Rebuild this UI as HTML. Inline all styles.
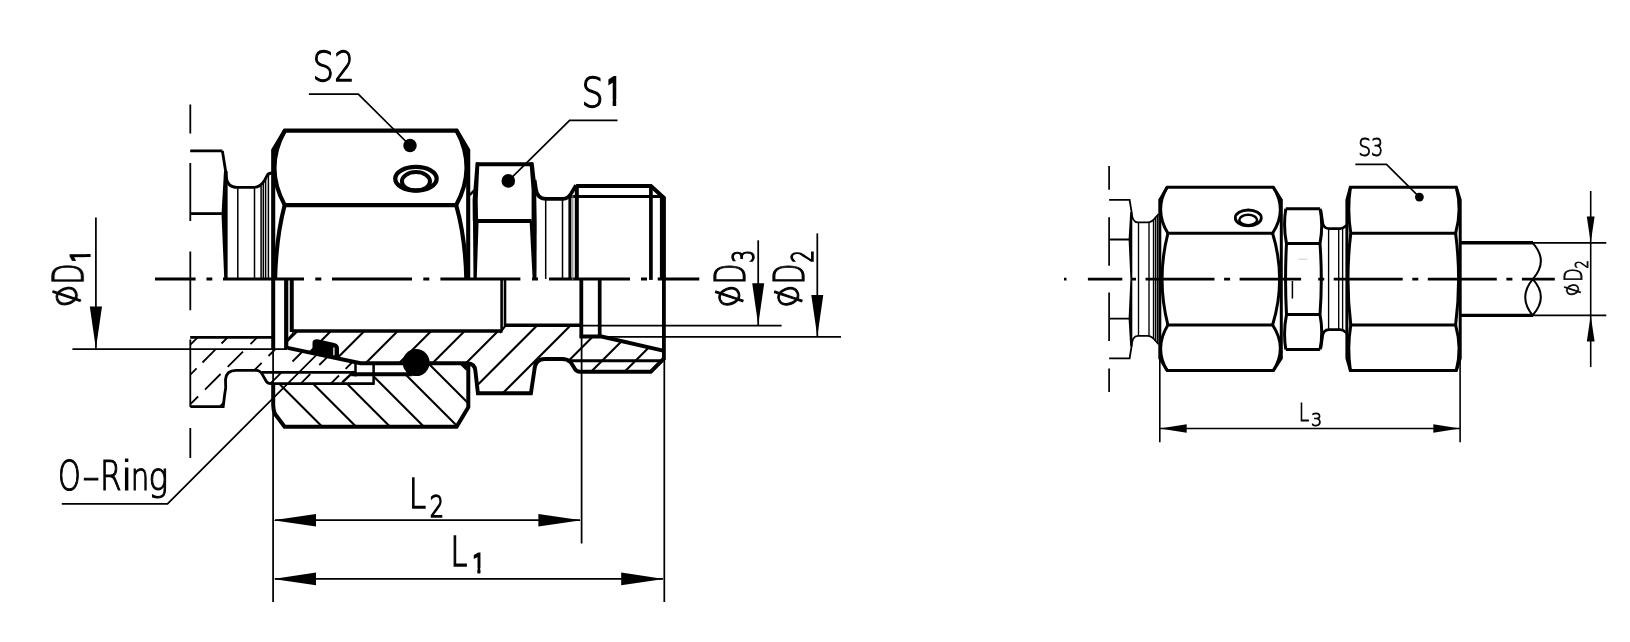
<!DOCTYPE html>
<html lang="en">
<head>
<meta charset="utf-8">
<title>Fitting dimensions</title>
<style>
html,body{margin:0;padding:0;background:#fff;}
body{width:1630px;height:642px;overflow:hidden;}
svg{display:block;}
.k{stroke:#000;fill:none;stroke-linecap:butt;stroke-linejoin:miter;}
.w{stroke:#fff;}
.g1{stroke:#777;}
.g2{stroke:#d0d0d0;}
.t{font-family:"DejaVu Sans","Liberation Sans",sans-serif;font-weight:400;fill:#000;stroke:#000;stroke-width:0;opacity:.999;}

</style>
</head>
<body>
<svg width="1630" height="642" viewBox="0 0 1630 642">
<rect width="1630" height="642" fill="#fff"/>
<defs>
<clipPath id="cBody"><path d="M288,347.9 L360.5,363.2 L467,363.3 L475.2,367.4 L477.9,393.3 L530.9,393.3 L534.4,368.6 L543,359 L564.2,359 L577.3,371.7 L650.8,371.7 L663.5,359 L663.5,350.5 L601.6,336.4 L581.3,336.5 L581.3,325.3 L505,325.3 L502,331 L292.8,331 L288,337 Z"/></clipPath>
<clipPath id="cNut"><path d="M273.2,383.4 L373.6,383.4 L373.6,374.2 L412,374.2 L412,363.3 L467,363.3 L468.3,407 L456.6,426.8 L284.6,426.8 L273.5,410 Z"/></clipPath>
<clipPath id="cPh"><path d="M190.3,337.3 L273,337.3 L273,349.4 L288,349.4 L288,348 L355.7,362.2 L355.7,372.4 L343,383.3 L269.1,383.3 L257.3,370.4 L234.8,370.4 L226.5,380 L221.8,406.7 L190.3,406.7 Z"/></clipPath>
</defs>

<!-- ================= LEFT DRAWING ================= -->
<g id="left">
<!-- centre line -->
<g class="k" stroke-width="2.9">
<path d="M155,279H195.6M206.5,279h5.8M223,279h81M315.3,279h6M332,279h80M423.3,279h6M440.4,279h80M532,279h6M549,279h81M641,279h6M657.7,279H699.3"/>
</g>
<!-- flange axis dash-dot -->
<g class="k" stroke-width="1.8">
<path d="M190.3,104.4V133.5M190.3,163V221M190.3,251.6V310.2M190.3,339.6V407M190.3,428V458"/>
</g>

<!-- hatching -->
<g class="k" stroke-width="2.1" clip-path="url(#cBody)">
<path d="M228.54,400l100,-100M261.97,400l100,-100M295.40,400l100,-100M328.83,400l100,-100M362.26,400l100,-100M395.69,400l100,-100M429.12,400l100,-100M462.55,400l100,-100M495.98,400l100,-100M529.41,400l100,-100M562.84,400l100,-100M596.27,400l100,-100"/>
</g>
<g class="k" stroke-width="2.1" clip-path="url(#cNut)">
<path d="M225.5,330l110,110M259.4,330l110,110M293.3,330l110,110M327.2,330l110,110M361.1,330l110,110M395,330l110,110M428.9,330l110,110"/>
</g>
<g class="k" stroke-width="1.8" clip-path="url(#cPh)">
<path d="M189,346L198,337M188,377L196.6,368.4M202.5,362.5L215.3,349.7M221.5,343.5L228,337M188,406.6L198.1,396.5M205,389.6L220.6,374M227.7,366.9L243,351.6M250.5,344.1L258,336.6M253,371.5L261.7,362.8M268.5,356L276.5,348M270,384L281.3,372.7M292.5,361.5L304,350M300,384.3L310.3,374M319.3,365L329,355.3M330,384.5L339,375.5M345.6,368.9L354,360.5"/>
</g>

<!-- upper half : flange -->
<g class="k" stroke-width="2.8">
<path d="M190.2,150.9H222.4"/>
<path d="M190.2,213.6H221.8"/>
<path d="M222.4,150.9 L225.6,171 L226.2,177 Q227.3,187.3 237,187.3 H254 Q260.5,187.3 264.6,180.2 L267.3,175.2 Q268.6,173 271.8,173" stroke-width="2.8"/>
</g>
<path d="M224,171 L227.6,171 L227.6,279.9 L224.3,279.9 L221.5,214 Z" fill="#000"/>
<g class="k" stroke-width="1.5">
<path d="M237.8,188V279M254.5,188V279M261.1,186V279M263.3,183V279M265.6,179V279M268.4,174.5V279"/>
</g>

<!-- upper half : nut S2 -->
<g class="k" stroke-width="4.1">
<path d="M273.2,279.9 V150 L284.9,130.6 H456.6 L468.2,150 V279.9"/>
<path d="M284.9,130.6 Q264.2,167.8 284.7,205.1 H456.2 Q476.6,167.8 456.6,130.6"/>
<path d="M284.7,205.1 Q276,238 275.1,279.9"/>
<path d="M456.2,205.1 Q465.5,238 466.3,279.9"/>
</g>
<!-- hole -->
<g class="k">
<ellipse cx="415.95" cy="178.8" rx="20.7" ry="11.85" stroke-width="4.3"/>
<ellipse cx="415.95" cy="181.35" rx="14.05" ry="9.25" stroke-width="4"/>
</g>

<!-- upper half : hex S1 -->
<g class="k" stroke-width="3.9">
<path d="M476,164.3 H533"/>
<path d="M478,221 H531.6"/>
</g>
<g fill="#000">
<path d="M475.6,162.4 L479.4,162.4 L478.6,180 L477.7,200 L478.1,221 L472.8,221 L472.6,200 L474.4,178 Z"/>
<path d="M473,221 L478.6,221 L476.7,279.9 L473.5,279.9 Z"/>
<path d="M529.5,162.4 L533.6,162.4 L536,183 L536.7,221 L531.6,221 L531.6,190 Z"/>
<path d="M529.6,221 L536.7,221 L536.5,279.9 L532.7,279.9 Z"/>
</g>
<path class="k" stroke-width="2.4" d="M469.9,194.8 L475.5,189.2"/>
<!-- groove + thread -->
<g class="k" stroke-width="3.7">
<path d="M534.6,180 L535.9,189 Q537.2,198.8 546,198.8 H563 Q568.3,198.8 571.5,192.8 L576,185.2"/>
<path d="M571.2,196.5 H660.9" stroke-width="3"/>
</g>
<g class="k" stroke-width="4">
<path d="M576.1,186 H650.9 L664.6,198.5" stroke-linejoin="miter"/>
</g>
<g class="k">
<path d="M545.7,199V279M562.5,199V279" stroke-width="1.5"/>
<path d="M569.9,194V279.9" stroke-width="3"/>
<path class="g1" d="M572.8,194V279.9" stroke-width="1"/>
<path d="M576.8,186V279.9" stroke-width="4"/>
<path d="M650.9,186V279.9" stroke-width="3.7"/>
<path d="M662.9,197V279.9" stroke-width="6"/>
</g>

<!-- lower half : section -->
<g class="k" stroke-width="2.8">
<path d="M190.2,337.3H272"/>
<path d="M190.4,406.7 H223.2 L224.6,395 L225.7,388 L225.5,379.5 Q226.2,370.4 236,370.4 H256 Q260,370.3 262.3,374.4 L266.2,381.3 Q267.5,383.6 271,383.6 H373.8"/>
<path d="M261.5,372.4 H355.7"/>
<path d="M355.5,362.5 V376.4" stroke-width="2.5"/>
<path d="M373.6,364.3 V384.8" stroke-width="2.5"/>
<path d="M342.3,382.4 L354,371.4" stroke-width="2.5"/>
</g>
<g class="k">
<path d="M273.2,278 V349" stroke-width="4"/>
<path d="M286.2,278 V349" stroke-width="4.2"/>
<path d="M291.75,278 V332" stroke-width="4"/>
<path d="M288.4,338.6 L293.6,333" stroke-width="2"/>
<path d="M292,331 H502.5" stroke-width="3.5"/>
<path d="M501.6,278 V331" stroke-width="2.6"/>
<path d="M505,278 V326.5" stroke-width="2.6"/>
<path d="M500,333 L505.5,325.6" stroke-width="2"/>
<path d="M504,325.3 H581" stroke-width="3.5"/>
<path d="M581.3,278 V338" stroke-width="3.8"/>
<path d="M599.7,278 V338" stroke-width="3.7"/>
<path d="M663.9,278 V360" stroke-width="3.8"/>
<path d="M579.8,336.5 H601.6 L663,350.6" stroke-width="3.9"/>
<path d="M287.6,347.9 L360.5,363.2 H467 Q475,363.3 475.4,371 L477.9,393.3 H530.9 L534.4,370 Q535,359 545,359 H562 Q567.5,359 570.5,362 L574.5,368.3 Q576.3,371.7 580,371.7 H650.8 L664,358.5" stroke-width="3.9"/>
<path d="M571,360.8 H662" stroke-width="3"/>
<path d="M351.2,374.2 H412" stroke-width="4"/>
<path d="M468.3,363.3 V407.2 L456.6,426.8 H284.6 L275,414 Q273.2,410 273.2,405 V383.3" stroke-width="4"/>
</g>
<path d="M217.8,407.6 L223.9,401 L223.6,407.6 Z" fill="#000"/>
<!-- seal and wire -->
<path d="M312.5,342.5 Q313,339 317.5,339.3 L334.3,343.1 Q339,344.4 339,348.5 V359.2 L308.5,353 L312.5,349 Z" fill="#000"/>
<path class="k w" stroke-width="1.3" d="M333.9,347.4 V355.3"/>
<circle cx="416.1" cy="362.6" r="13.5" fill="#000"/>
<path d="M460.4,365 H466.5 V371 Z" fill="#000"/>
<path d="M403,363.3 L398,363.3 L398,361.8 Z M403.5,373.8 L400,375.6 L409,375.6Z" fill="#000"/>

<!-- leaders & dots -->
<g class="k" stroke-width="1.75">
<path d="M308.9,94.2 H358.3 L410,145.5"/>
<path d="M617.5,120.3 H569.6 L508.3,180.9"/>
<path d="M61.8,503.8 H167.5 L321,350.3"/>
</g>
<circle cx="410" cy="145.5" r="6.7" fill="#000"/>
<circle cx="508.3" cy="180.9" r="6.8" fill="#000"/>

<!-- dimensions -->
<g class="k" stroke-width="1.75">
<path d="M72.4,349 H287"/>
<path d="M95.9,217.4 V348.6"/>
<path d="M581,325.5 H781.6"/>
<path d="M601,336.9 H841"/>
<path d="M758.2,240.3 V325"/>
<path d="M817.3,233.4 V336.4"/>
<path d="M273.1,349 V602"/>
<path d="M581.6,338 V543.5"/>
<path d="M664.3,360 V602"/>
<path d="M275,520.2 H580"/>
<path d="M275,578.9 H663"/>
</g>
<g fill="#000">
<path d="M95.9,348.8 L89.8,306.6 H102 Z"/>
<path d="M758.2,325 L752.2,283.3 H764.2 Z"/>
<path d="M817.3,336.5 L811.3,294.9 H823.3 Z"/>
<path d="M273.1,520.2 L316,513.9 V526.5 Z"/>
<path d="M581.3,520.2 L538.4,513.9 V526.5 Z"/>
<path d="M273.1,578.9 L316,572.6 V585.2 Z"/>
<path d="M663.9,578.9 L621.2,572.6 V585.2 Z"/>
</g>

<!-- texts -->
<g class="t">
<text transform="translate(314.9,81.3)"><tspan font-size="41.5" textLength="21.51" lengthAdjust="spacingAndGlyphs" dx="-2.48" style="font-family:'DejaVu Sans Light','DejaVu Sans',sans-serif;font-weight:200;stroke-width:1.3">S</tspan><tspan font-size="41.5" textLength="20.18" lengthAdjust="spacingAndGlyphs" dx="0.26" style="font-family:'DejaVu Sans Light','DejaVu Sans',sans-serif;font-weight:200;stroke-width:1.3">2</tspan></text>
<clipPath id="cut1"><path clip-rule="evenodd" d="M0,0H1630V642H0ZM608.23,99.26H612.63V108.00H608.23ZM616.21,99.26H620.60V108.00H616.21Z"/></clipPath>
<g clip-path="url(#cut1)"><text transform="translate(583.9,107)"><tspan font-size="40.4" textLength="22.13" lengthAdjust="spacingAndGlyphs" dx="-2.49" style="font-family:'DejaVu Sans Light','DejaVu Sans',sans-serif;font-weight:200;stroke-width:1.4">S</tspan><tspan font-size="36" textLength="13.78" lengthAdjust="spacingAndGlyphs" dx="3.64" dy="-2.60" style="font-family:'DejaVu Sans Light','DejaVu Sans',sans-serif;font-weight:200;stroke-width:4.2">1</tspan></text></g>
<text transform="translate(60,489.9)"><tspan font-size="40.5" textLength="22.76" lengthAdjust="spacingAndGlyphs" dx="-1.93" style="font-family:'DejaVu Sans Light','DejaVu Sans',sans-serif;font-weight:200;stroke-width:1.2">O</tspan><tspan font-size="40.8" textLength="18.19" lengthAdjust="spacingAndGlyphs" dx="1.23" style="font-family:'DejaVu Sans Light','DejaVu Sans',sans-serif;font-weight:200;stroke-width:1.0">-</tspan><tspan font-size="40.5" textLength="21.57" lengthAdjust="spacingAndGlyphs" dx="-0.30" style="font-family:'DejaVu Sans Light','DejaVu Sans',sans-serif;font-weight:200;stroke-width:1.2">R</tspan><tspan font-size="40.5" textLength="12.67" lengthAdjust="spacingAndGlyphs" dx="-1.05" style="font-family:'DejaVu Sans Light','DejaVu Sans',sans-serif;font-weight:200;stroke-width:1.2">i</tspan><tspan font-size="38.8" textLength="18.56" lengthAdjust="spacingAndGlyphs" dx="-2.29" style="font-family:'DejaVu Sans Light','DejaVu Sans',sans-serif;font-weight:200;stroke-width:1.2">n</tspan><tspan font-size="38.8" textLength="19.71" lengthAdjust="spacingAndGlyphs" dx="-0.83" style="font-family:'DejaVu Sans Light','DejaVu Sans',sans-serif;font-weight:200;stroke-width:1.2">g</tspan></text>
<text transform="translate(412.1,507.9)"><tspan font-size="40.9" textLength="17.39" lengthAdjust="spacingAndGlyphs" dx="-3.32" style="font-family:'DejaVu Sans Light','DejaVu Sans',sans-serif;font-weight:200;stroke-width:1.3">L</tspan><tspan font-size="30.2" textLength="14.20" lengthAdjust="spacingAndGlyphs" dx="3.56" dy="8.80" style="font-family:'DejaVu Sans Light','DejaVu Sans',sans-serif;font-weight:200;stroke-width:1.6">2</tspan></text>
<clipPath id="cut2"><path clip-rule="evenodd" d="M0,0H1630V642H0ZM473.33,567.88H477.43V574.80H473.33ZM480.39,567.88H484.50V574.80H480.39Z"/></clipPath>
<g clip-path="url(#cut2)"><text transform="translate(453.6,565.9)"><tspan font-size="40.8" textLength="16.73" lengthAdjust="spacingAndGlyphs" dx="-3.08" style="font-family:'DejaVu Sans Light','DejaVu Sans',sans-serif;font-weight:200;stroke-width:1.6">L</tspan><tspan font-size="25.6" textLength="11.89" lengthAdjust="spacingAndGlyphs" dx="5.42" dy="6.00" style="font-family:'DejaVu Sans Light','DejaVu Sans',sans-serif;font-weight:200;stroke-width:2.8">1</tspan></text></g>
<clipPath id="cut3"><path clip-rule="evenodd" d="M0,0H1630V642H0ZM85.38,257.11H92.30V261.28H85.38ZM85.38,249.95H92.30V254.11H85.38Z"/></clipPath>
<g clip-path="url(#cut3)"><text transform="translate(83.1,306) rotate(-90)"><tspan font-size="37" rotate="-21" style="font-family:'DejaVu Sans Light','DejaVu Sans',sans-serif;font-weight:200;stroke-width:1.1" dx="3.03" dy="-3.04">ø</tspan><tspan font-size="43.2" textLength="20.96" lengthAdjust="spacingAndGlyphs" dx="-4.26" dy="3.04" style="font-family:'DejaVu Sans Light','DejaVu Sans',sans-serif;font-weight:200;stroke-width:1.3">D</tspan><tspan font-size="25.6" textLength="12.06" lengthAdjust="spacingAndGlyphs" dx="1.69" dy="6.30" style="font-family:'DejaVu Sans Light','DejaVu Sans',sans-serif;font-weight:200;stroke-width:2.8">1</tspan></text></g>
<text transform="translate(745.1,306.6) rotate(-90)"><tspan font-size="37" rotate="-21" style="font-family:'DejaVu Sans Light','DejaVu Sans',sans-serif;font-weight:200;stroke-width:1.05" dx="3.38" dy="-2.29">ø</tspan><tspan font-size="41.8" textLength="20.54" lengthAdjust="spacingAndGlyphs" dx="-3.64" dy="2.29" style="font-family:'DejaVu Sans Light','DejaVu Sans',sans-serif;font-weight:200;stroke-width:1.3">D</tspan><tspan font-size="31" textLength="13.02" lengthAdjust="spacingAndGlyphs" dx="0.82" dy="8.80" style="font-family:'DejaVu Sans Light','DejaVu Sans',sans-serif;font-weight:200;stroke-width:1.5">3</tspan></text>
<text transform="translate(804,306.6) rotate(-90)"><tspan font-size="37" rotate="-21" style="font-family:'DejaVu Sans Light','DejaVu Sans',sans-serif;font-weight:200;stroke-width:1.05" dx="3.38" dy="-2.29">ø</tspan><tspan font-size="41.8" textLength="20.54" lengthAdjust="spacingAndGlyphs" dx="-3.64" dy="2.29" style="font-family:'DejaVu Sans Light','DejaVu Sans',sans-serif;font-weight:200;stroke-width:1.3">D</tspan><tspan font-size="31" textLength="12.72" lengthAdjust="spacingAndGlyphs" dx="0.98" dy="9.20" style="font-family:'DejaVu Sans Light','DejaVu Sans',sans-serif;font-weight:200;stroke-width:1.5">2</tspan></text>
</g>
</g>

<!-- ================= RIGHT DRAWING ================= -->
<g id="right">
<!-- centre line -->
<g class="k" stroke-width="2.7">
<path d="M1064,279.1h2.5M1087.9,279.1H1122.3M1131,279.1h5M1145.5,279.1h69M1224.1,279.1h6M1239.6,279.1h61.5M1318.2,279.1h6M1333.7,279.1h69M1412.3,279.1h6M1427.8,279.1h69M1506.4,279.1h6M1521.9,279.1H1554.8"/>
</g>
<g class="k" stroke-width="1.7">
<path d="M1109.1,166.1V189.8M1109.1,217.2V265.8M1109.1,292.4V341M1109.1,368.4V392.1"/>
</g>
<!-- flange -->
<g class="k" stroke-width="1.8">
<path d="M1109.1,199.9H1129.6 L1131.6,212 Q1132,222.4 1138,222.4 H1147.5 Q1152,222.4 1155.7,217.2 L1158.6,214"/>
<path d="M1109.1,358.3H1129.6 L1131.6,346.2 Q1132,335.8 1138,335.8 H1147.5 Q1152,335.8 1155.7,341 L1158.6,344.2"/>
<path d="M1109.1,239.5H1129M1109.1,318.7H1129"/>
</g>
<path d="M1130.2,212 L1132.3,212 L1132.3,346.2 L1130.2,346.2 L1128.6,318.7 L1130.4,279 L1128.6,239.5 Z" fill="#000"/>
<g class="k" stroke-width="1.35">
<path d="M1138.5,222.5V335.7M1149,222.5V335.7M1153.5,220V338M1155.5,218V340M1157.4,216V342"/>
</g>
<!-- nut 1 -->
<g class="k" stroke-width="3">
<path d="M1159.8,358.3 V199.9 L1167.3,187.3 H1273.3 L1281.3,199.9 V358.3 L1273.3,370.6 H1167.3 Z"/>
<path d="M1167,187.3 Q1153.8,210 1167.9,233.3 H1272.6 Q1287.8,210 1273.3,187.3"/>
<path d="M1167,370.6 Q1153.8,348 1167.9,325 H1272.6 Q1287.8,348 1273.3,370.6"/>
<path d="M1167.9,233.3 Q1156.2,279.1 1167.9,325"/>
<path d="M1272.6,233.3 Q1286.6,279.1 1272.6,325"/>
</g>
<g class="k">
<ellipse cx="1248.3" cy="217.9" rx="13" ry="7.9" stroke-width="2.8"/>
<ellipse cx="1248.2" cy="220" rx="8.9" ry="5.2" stroke-width="2.5"/>
</g>
<!-- hex 2 -->
<g class="k" stroke-width="3">
<path d="M1285.8,208.7 H1320.1"/>
<path d="M1285.8,349.4 H1320.1"/>
<path d="M1286.5,243.6 H1320M1286.5,314.6 H1320"/>
<path d="M1285.8,208.7 Q1283,226 1286.5,243.6 Q1284.6,279 1286.5,314.6 Q1283,332 1285.8,349.4"/>
<path d="M1320.1,208.7 Q1323.4,226 1320,243.6 Q1322.6,279 1320,314.6 Q1323.4,332 1320.1,349.4"/>
</g>
<path class="k" stroke-width="1.5" d="M1292.4,281V298.5"/>
<path class="k g2" stroke-width="1.1" d="M1298.7,259.2H1307.5"/>
<!-- groove 2 -->
<g class="k" stroke-width="2.6">
<path d="M1320.9,210 L1322.5,221 Q1323,228.6 1329,228.6 H1340 Q1343,228.6 1345.7,226 L1347,225"/>
<path d="M1320.9,348.2 L1322.5,337.2 Q1323,329.6 1329,329.6 H1340 Q1343,329.6 1345.7,332.2 L1347,333.2"/>
</g>
<g class="k" stroke-width="1.35">
<path d="M1328.6,229V329M1338.7,229V329M1342.6,228V330"/>
</g>
<!-- nut S3 -->
<g class="k" stroke-width="3">
<path d="M1346.9,358.3 V199.9 L1350.4,187.2 H1456.3 L1460.2,199.9 V358.3 L1456.3,370.6 H1350.4 Z"/>
<path d="M1350.4,187.2 Q1347,210 1350.8,233.3 H1455.6 Q1462.2,210 1456.3,187.2"/>
<path d="M1350.4,370.6 Q1347,348 1350.8,325 H1455.6 Q1462.2,348 1456.3,370.6"/>
<path d="M1350.8,233.3 Q1345.2,279.1 1350.8,325"/>
<path d="M1455.6,233.3 Q1461.6,279.1 1455.6,325"/>
</g>
<!-- tube -->
<g class="k" stroke-width="3.4">
<path d="M1461,242.8 H1533M1461,315.4 H1533"/>
</g>
<g class="k" stroke-width="2">
<path d="M1532.6,242.8 Q1549,261 1532.8,279.1 Q1517.8,297 1532.6,315.4 Q1549,297 1532.8,279.1"/>
</g>
<!-- dims -->
<g class="k" stroke-width="1.6">
<path d="M1533,242.9 H1606.3M1533,315.4 H1606.3"/>
<path d="M1590.7,191 V367.1"/>
<path d="M1159.8,360 V442.2M1460.1,360 V442.2"/>
<path d="M1159.8,428.5 H1460.1"/>
<path d="M1355.4,164.4 H1386.5 L1419.4,197.1"/>
</g>
<g fill="#000">
<path d="M1590.7,243 L1586.8,216.5 H1594.6 Z"/>
<path d="M1590.7,315.3 L1586.8,341.5 H1594.6 Z"/>
<path d="M1159.8,428.5 L1186.7,424.3 V432.7 Z"/>
<path d="M1460.1,428.5 L1433.3,424.3 V432.7 Z"/>
<circle cx="1419.4" cy="197.1" r="4.4"/>
</g>
<g class="t" style="stroke-width:.45">
<text transform="translate(1359.6,156.1)"><tspan font-size="24.2" textLength="12.91" lengthAdjust="spacingAndGlyphs" dx="-1.43" style="font-family:'DejaVu Sans Light','DejaVu Sans',sans-serif;font-weight:200;stroke-width:0.9">S</tspan><tspan font-size="24.2" textLength="12.28" lengthAdjust="spacingAndGlyphs" dx="-0.19" style="font-family:'DejaVu Sans Light','DejaVu Sans',sans-serif;font-weight:200;stroke-width:0.9">3</tspan></text>
<text transform="translate(1300.6,421)"><tspan font-size="24.4" textLength="10.37" lengthAdjust="spacingAndGlyphs" dx="-1.93" style="font-family:'DejaVu Sans Light','DejaVu Sans',sans-serif;font-weight:200;stroke-width:0.9">L</tspan><tspan font-size="18.4" textLength="11.11" lengthAdjust="spacingAndGlyphs" dx="1.86" dy="5.00" style="font-family:'DejaVu Sans Light','DejaVu Sans',sans-serif;font-weight:200;stroke-width:0.9">3</tspan></text>
<text transform="translate(1581.9,296) rotate(-90)"><tspan font-size="21.6" rotate="-21" style="font-family:'DejaVu Sans Light','DejaVu Sans',sans-serif;font-weight:200;stroke-width:0.75" dx="2.16" dy="-1.49">ø</tspan><tspan font-size="24.6" textLength="13.44" lengthAdjust="spacingAndGlyphs" dx="-1.08" dy="1.49" style="font-family:'DejaVu Sans Light','DejaVu Sans',sans-serif;font-weight:200;stroke-width:0.9">D</tspan><tspan font-size="18" textLength="8.25" lengthAdjust="spacingAndGlyphs" dx="-0.21" dy="6.20" style="font-family:'DejaVu Sans Light','DejaVu Sans',sans-serif;font-weight:200;stroke-width:0.9">2</tspan></text>
</g>
</g>
</svg>
</body>
</html>
